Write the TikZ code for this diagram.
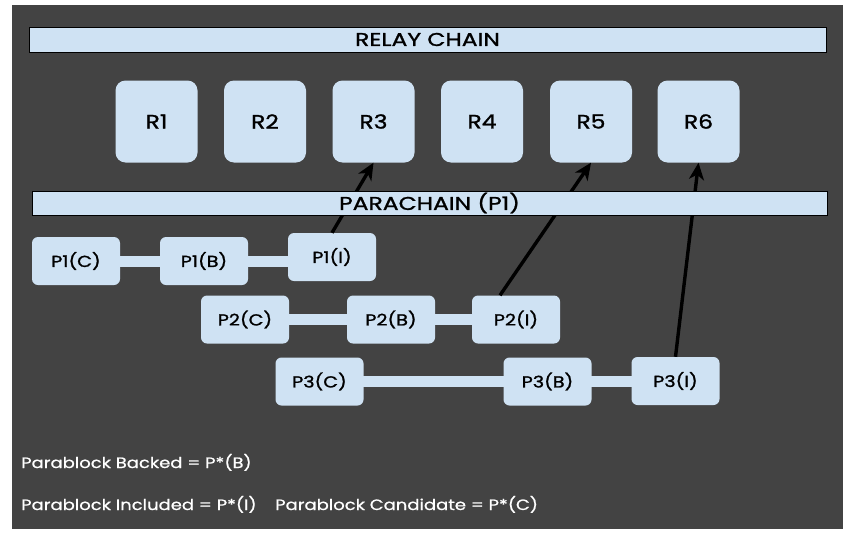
\documentclass[tikz,border=0pt]{standalone}
\usepackage{fontspec}
\setmainfont{Poppins}
\newfontfamily\boxfont{Poppins}[FakeStretch=1.2,FakeBold=1.3]
\newfontfamily\barfont{Poppins}[FakeStretch=1.27,FakeBold=1.3]
\newfontfamily\legfont{Poppins}[FakeStretch=1.2,FakeBold=0.8]
\usetikzlibrary{arrows.meta,calc}
\definecolor{bg}{HTML}{434343}
\definecolor{lb}{HTML}{CFE2F3}
\begin{document}
\begin{tikzpicture}[x=1pt,y=-1pt,
 rbox/.style={fill=lb, rounded corners=10pt, minimum width=82pt, minimum height=82pt, inner sep=0pt, font=\boxfont\fontsize{19.5}{19.5}\selectfont},
 pbox/.style={fill=lb, rounded corners=6pt, minimum width=88pt, minimum height=48pt, inner sep=0pt, font=\boxfont\fontsize{16}{16}\selectfont},
 bar/.style={fill=lb, draw=black, line width=1pt, inner sep=0pt, font=\barfont\fontsize{18.5}{18.5}\selectfont},
 link/.style={draw=lb, line width=11pt},
 up/.style={draw=black, line width=3.4pt, -{Stealth[length=17pt,width=15pt,inset=5pt]}},
 legend/.style={anchor=base west, text=white, inner sep=0pt, font=\legfont\fontsize{15}{15}\selectfont}]
\useasboundingbox (0,0) rectangle (851,538);
\fill[white] (0,0) rectangle (851,538);
\fill[bg] (12,5) rectangle (843,529);
% relay chain
\node[bar, minimum width=797pt, minimum height=25pt] (relay) at (427.5,39.5) {RELAY CHAIN};
\node[rbox] (r1) at (156.5,121.5) {R1};
\node[rbox] (r2) at (265,121.5) {R2};
\node[rbox] (r3) at (373.5,121.5) {R3};
\node[rbox] (r4) at (482,121.5) {R4};
\node[rbox] (r5) at (591,121.5) {R5};
\node[rbox] (r6) at (698.5,121.5) {R6};
% links
\coordinate (k1) at (76,261);
\coordinate (k2) at (204,261);
\coordinate (k3) at (332,261);
\draw[link] (k1) -- (k3);
\draw[link] (245,319.5) -- (516,319.5);
\draw[link] (319.5,381.5) -- (675.5,381.5);
% parablocks
\node[pbox] (p1c) at (k1) {P1(C)};
\node[pbox] (p1b) at (k2) {P1(B)};
\node[pbox] (p1i) at (332,257) {P1(I)};
\node[pbox] (p2c) at (245,319.5) {P2(C)};
\node[pbox] (p2b) at (391,319.5) {P2(B)};
\node[pbox] (p2i) at (516,319.5) {P2(I)};
\node[pbox] (p3c) at (319.5,381.5) {P3(C)};
\node[pbox] (p3b) at (547.5,381.5) {P3(B)};
\node[pbox] (p3i) at (675.5,381) {P3(I)};
% arrows
\draw[up] (p1i.north) -- (r3.south);
\draw[up] ($(p2i.north)+(-16,0)$) -- (r5.south);
\draw[up] (p3i.north) -- (r6.south);
% parachain bar
\node[bar, minimum width=795pt, minimum height=24pt] (para) at (429.5,203) {PARACHAIN (P1)};
% legend
\node[legend] (lg1) at (21,468) {Parablock Backed = P*(B)};
\node[legend] (lg2) at (21,510) {Parablock Included = P*(I)};
\node[legend] (lg3) at (275,510) {Parablock Candidate = P*(C)};
\end{tikzpicture}
\end{document}
